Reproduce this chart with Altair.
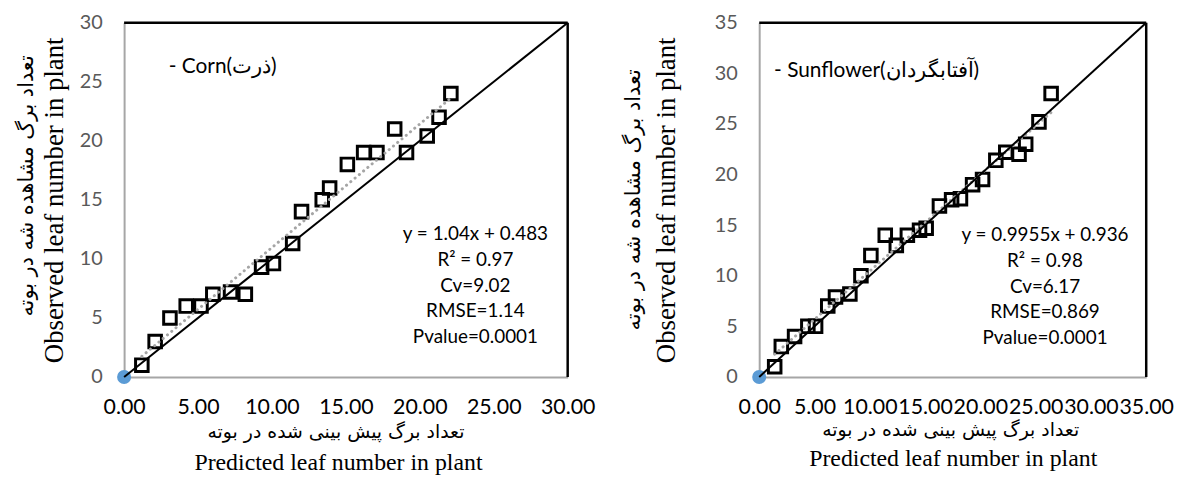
import altair as alt
import pandas as pd

# ---------------- data ----------------
corn_pred = [1.2, 2.1, 3.1, 4.2, 5.2, 6.0, 7.2, 8.2, 9.3, 10.1, 11.4, 12.0,
             13.4, 13.9, 15.1, 16.2, 17.1, 18.3, 19.1, 20.5, 21.3, 22.1]
corn_obs = [1.0, 3.0, 5.0, 6.0, 6.0, 7.0, 7.2, 7.0, 9.3, 9.6, 11.3, 14.0,
            15.0, 16.0, 18.0, 19.0, 19.0, 21.0, 19.0, 20.4, 22.0, 24.0]

sun_pred = [1.4, 2.0, 3.2, 4.4, 5.1, 6.2, 6.9, 8.2, 9.2, 10.1, 11.4, 12.4, 13.4,
            14.5, 15.1, 16.3, 17.4, 18.2, 19.3, 20.2, 21.4, 22.3, 23.5, 24.1, 25.3, 26.4]
sun_obs = [1.0, 3.0, 4.0, 5.0, 5.0, 7.0, 7.9, 8.2, 10.0, 12.0, 14.0, 13.0, 14.0,
           14.5, 14.7, 16.9, 17.5, 17.6, 19.0, 19.5, 21.4, 22.2, 22.0, 23.0, 25.2, 28.0]

origin_pred = [0]
origin_obs = [0]

corn_max = 30
sun_max = 35
corn_ticks = [0, 5, 10, 15, 20, 25, 30]
sun_ticks = [0, 5, 10, 15, 20, 25, 30, 35]

panel_labels = ["- Corn(ذرت)", "- Sunflower(آفتابگردان)"]
corn_stats = ["y = 1.04x + 0.483", "R² = 0.97", "Cv=9.02", "RMSE=1.14", "Pvalue=0.0001"]
sun_stats = ["y = 0.9955x + 0.936", "R² = 0.98", "Cv=6.17", "RMSE=0.869", "Pvalue=0.0001"]

x_title_en = "Predicted leaf number in plant"
x_title_fa = "تعداد برگ پیش بینی شده در بوته"
y_title_en = "Observed leaf number in plant"
y_title_fa = "تعداد برگ مشاهده شه در بوته"

H = 357


def panel(pred, obs, dmax, ticks, label, stats, w, lay):
    pts = pd.DataFrame({"pred": pred, "obs": obs})
    org = pd.DataFrame({"pred": origin_pred, "obs": origin_obs})
    diag = pd.DataFrame({"pred": [0, dmax], "obs": [0, dmax]})
    one = pd.DataFrame({"k": [0]})

    xs = alt.Scale(domain=[0, dmax], nice=False)
    ys = alt.Scale(domain=[0, dmax], nice=False)

    xaxis = alt.Axis(
        values=ticks, format=".2f", grid=False, ticks=False, tickSize=0,
        labelFont="Lato", labelFontSize=21.5, labelColor="#000000",
        labelPadding=lay["xlab_pad"], labelOverlap=False, labelFlush=False,
        domainColor="#A6A6A6", domainWidth=2,
        title=x_title_en, titleFont="Liberation Serif", titleFontSize=24,
        titleFontWeight="normal", titleColor="#000000",
        titleX=w / 2 + lay["xen_dx"], titleY=lay["xen_y"],
        titleAlign="center", titleBaseline="middle",
    )
    yaxis = alt.Axis(
        values=ticks, format="d", grid=False, ticks=False, tickSize=0,
        labelFont="Lato", labelFontSize=20, labelColor="#595959",
        labelPadding=22, labelOverlap=False, labelFlush=False,
        domainColor="#A6A6A6", domainWidth=2,
        title=y_title_en, titleFont="Liberation Serif", titleFontSize=27,
        titleFontWeight="normal", titleColor="#000000",
        titleX=lay["yen_x"], titleY=H / 2, titleAngle=270,
        titleAlign="center", titleBaseline="middle",
    )

    dot = alt.Chart(org).mark_point(
        shape="circle", filled=True, size=200, color="#5B9BD5", opacity=1
    ).encode(
        x=alt.X("pred:Q", scale=xs, axis=xaxis),
        y=alt.Y("obs:Q", scale=ys, axis=yaxis),
    )

    squares = alt.Chart(pts).mark_point(
        shape="square", filled=False, size=160, strokeWidth=3,
        color="#000000", opacity=1
    ).encode(x="pred:Q", y="obs:Q")

    trend = alt.Chart(pts).transform_regression("pred", "obs").mark_line(
        color="#A5A5A5", strokeWidth=3, strokeDash=[0.1, 5.5], strokeCap="round"
    ).encode(x="pred:Q", y="obs:Q")

    one_to_one = alt.Chart(diag).mark_line(color="#000000", strokeWidth=2).encode(
        x="pred:Q", y="obs:Q"
    )

    top_edge = alt.Chart(one).mark_rule(color="#000000", strokeWidth=2.5).encode(
        y=alt.datum(dmax)
    )
    right_edge = alt.Chart(one).mark_rule(color="#000000", strokeWidth=2.5).encode(
        x=alt.datum(dmax)
    )

    name_txt = alt.Chart(one).mark_text(
        align="left", baseline="middle", font="Lato", fontSize=21, color="#000000"
    ).encode(x=alt.value(lay["lab_x"]), y=alt.value(lay["lab_y"]), text=alt.value(label))

    stats_txt = alt.Chart(one).mark_text(
        align="center", baseline="middle", font="Lato", fontSize=19,
        lineHeight=26, color="#000000"
    ).encode(x=alt.value(lay["st_x"]), y=alt.value(lay["st_y"]), text=alt.value(stats))

    yfa = alt.Chart(one).mark_text(
        align="center", baseline="middle", font="DejaVu Sans", fontSize=21,
        angle=270, color="#000000"
    ).encode(x=alt.value(lay["yfa_x"]), y=alt.value(H / 2 + lay["yfa_dy"]),
             text=alt.value(y_title_fa))

    xfa = alt.Chart(one).mark_text(
        align="center", baseline="middle", font="DejaVu Sans", fontSize=19,
        color="#000000"
    ).encode(x=alt.value(w / 2 + lay["xfa_dx"]), y=alt.value(H + lay["xfa_y"]),
             text=alt.value(x_title_fa))

    return alt.layer(
        dot, squares, trend, one_to_one, top_edge, right_edge,
        name_txt, stats_txt, yfa, xfa
    ).properties(width=w, height=H)


left = panel(
    corn_pred, corn_obs, corn_max, corn_ticks, panel_labels[0], corn_stats, 447,
    dict(xlab_pad=20, xen_dx=-8, xen_y=86, yen_x=-70, lab_x=45, lab_y=45,
         st_x=354, st_y=213, yfa_x=-98, yfa_dy=-14, xfa_dx=-10, xfa_y=56),
)
right = panel(
    sun_pred, sun_obs, sun_max, sun_ticks, panel_labels[1], sun_stats, 390,
    dict(xlab_pad=20, xen_dx=0, xen_y=82, yen_x=-93, lab_x=15, lab_y=49,
         st_x=288, st_y=214, yfa_x=-126, yfa_dy=0, xfa_dx=-2, xfa_y=54),
)

chart = alt.hconcat(left, right, spacing=193, bounds="flush").properties(
    padding={"left": 8, "top": 3, "right": 0, "bottom": 0}
).configure_view(strokeWidth=0)

chart.save("out.html", embed_options={"renderer": "svg", "actions": False})
